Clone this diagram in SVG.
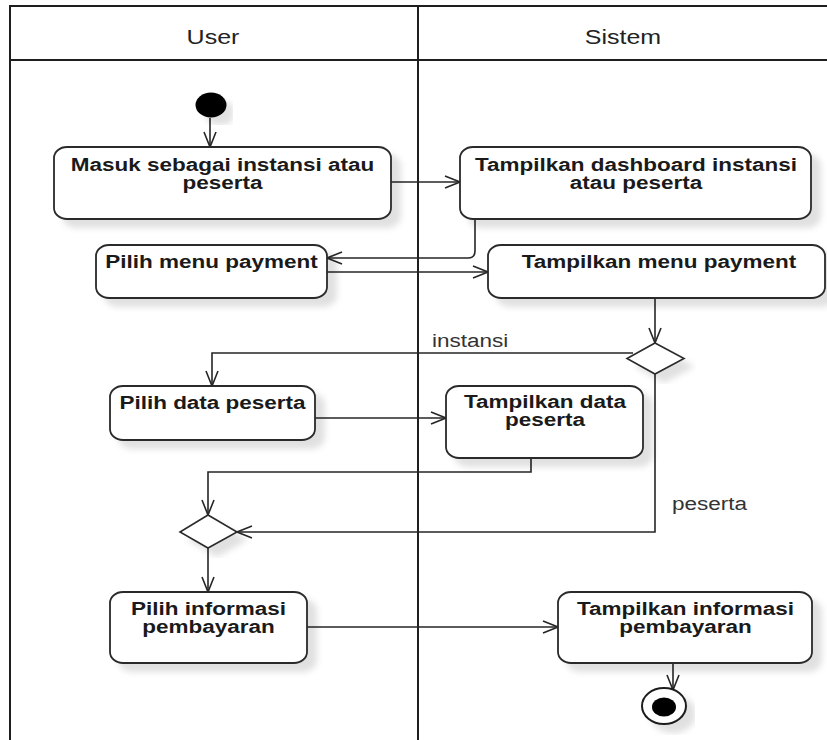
<svg xmlns="http://www.w3.org/2000/svg" width="827" height="740" viewBox="0 0 827 740">
  <defs>
    <style>
      .lane { fill: none; stroke: #1e1e1e; stroke-width: 2; }
      .act { fill: #ffffff; stroke: #2a2a2a; stroke-width: 1.8; filter: url(#shadow); }
      .dec { fill: #ffffff; stroke: #2a2a2a; stroke-width: 1.6; filter: url(#shadow); }
      .edge { fill: none; stroke: #262626; stroke-width: 1.6; marker-end: url(#open); }
      .t { font-family: "Liberation Sans", Arial, sans-serif; font-size: 18px; font-weight: bold; fill: #1a1a1a; text-anchor: middle; }
      .hd { font-family: "Liberation Sans", Arial, sans-serif; font-size: 20px; fill: #222222; text-anchor: middle; }
      .lbl { font-family: "Liberation Sans", Arial, sans-serif; font-size: 18px; fill: #333333; }
    </style>
    <filter id="shadow" x="-10%" y="-10%" width="130%" height="140%">
      <feOffset in="SourceAlpha" dx="9" dy="8" result="off"/>
      <feGaussianBlur in="off" stdDeviation="3" result="blur"/>
      <feColorMatrix in="blur" type="matrix" values="0 0 0 0 0  0 0 0 0 0  0 0 0 0 0  0 0 0 0.12 0" result="sh"/>
      <feMerge>
        <feMergeNode in="sh"/>
        <feMergeNode in="SourceGraphic"/>
      </feMerge>
    </filter>
    <marker id="open" viewBox="0 0 17 14" refX="16" refY="7" markerWidth="17" markerHeight="14" markerUnits="userSpaceOnUse" orient="auto">
      <path d="M1,1 L16,7 L1,13" fill="none" stroke="#262626" stroke-width="1.6"/>
    </marker>
  </defs>

  <rect width="827" height="740" fill="#ffffff"/>

  <!-- swimlanes -->
  <g id="lanes">
    <path class="lane" d="M10,740 V6 H827 M10,60 H827 M418,6 V740"/>
    <text class="hd" transform="matrix(1.25 0 0 1 213 44)">User</text>
    <text class="hd" transform="matrix(1.25 0 0 1 623 44)">Sistem</text>
  </g>

  <!-- connectors -->
  <g id="connectors">
    <path class="edge" d="M210,118 V147"/>
    <path class="edge" d="M391,182 H460"/>
    <path class="edge" d="M475,219 V251 Q475,258 468,258 H327"/>
    <path class="edge" d="M327,272 H488"/>
    <path class="edge" d="M655,298 V343"/>
    <path class="edge" d="M633,353 H212 V386"/>
    <path class="edge" d="M315,418 H446"/>
    <path class="edge" d="M531,458 V472 H208 V515"/>
    <path class="edge" d="M655,374 V532 H237"/>
    <path class="edge" d="M208,548 V592"/>
    <path class="edge" d="M307,627 H558"/>
    <path class="edge" d="M673,663 V690"/>
    <text class="lbl" transform="matrix(1.25 0 0 1 432 347)">instansi</text>
    <text class="lbl" transform="matrix(1.25 0 0 1 672 510)">peserta</text>
  </g>

  <!-- start -->
  <g id="start">
    <ellipse cx="211" cy="105" rx="15.5" ry="12.5" fill="#000000" filter="url(#shadow)"/>
  </g>

  <g id="masuk">
    <rect class="act" x="54" y="147" width="337" height="72" rx="13" ry="11"/>
    <text class="t" transform="matrix(1.25 0 0 1 222.5 171)"><tspan x="0">Masuk sebagai instansi atau</tspan><tspan x="0" dy="18">peserta</tspan></text>
  </g>

  <g id="dashboard">
    <rect class="act" x="460" y="147" width="351" height="72" rx="13" ry="11"/>
    <text class="t" transform="matrix(1.25 0 0 1 636 171)"><tspan x="0">Tampilkan dashboard instansi</tspan><tspan x="0" dy="18">atau peserta</tspan></text>
  </g>

  <g id="pilih-menu">
    <rect class="act" x="96" y="245" width="231" height="53" rx="13" ry="11"/>
    <text class="t" transform="matrix(1.25 0 0 1 211.5 268)">Pilih menu payment</text>
  </g>

  <g id="menu-payment">
    <rect class="act" x="488" y="245" width="337" height="53" rx="13" ry="11"/>
    <text class="t" transform="matrix(1.25 0 0 1 659 268)">Tampilkan menu payment</text>
  </g>

  <g id="decision-1">
    <path class="dec" d="M655,343 L684,358.5 L655,374 L627,358.5 Z"/>
  </g>

  <g id="pilih-data">
    <rect class="act" x="110" y="386" width="205" height="54" rx="13" ry="11"/>
    <text class="t" transform="matrix(1.25 0 0 1 212.5 409)">Pilih data peserta</text>
  </g>

  <g id="data-peserta">
    <rect class="act" x="446" y="386" width="197" height="72" rx="13" ry="11"/>
    <text class="t" transform="matrix(1.25 0 0 1 545 408)"><tspan x="0">Tampilkan data</tspan><tspan x="0" dy="18">peserta</tspan></text>
  </g>

  <g id="decision-2">
    <path class="dec" d="M208,515 L237,532 L208,548 L180,532 Z"/>
  </g>

  <g id="pilih-info">
    <rect class="act" x="110" y="592" width="197" height="71" rx="13" ry="11"/>
    <text class="t" transform="matrix(1.25 0 0 1 208.5 615)"><tspan x="0">Pilih informasi</tspan><tspan x="0" dy="18">pembayaran</tspan></text>
  </g>

  <g id="info-pembayaran">
    <rect class="act" x="558" y="592" width="254" height="71" rx="13" ry="11"/>
    <text class="t" transform="matrix(1.25 0 0 1 685.5 615)"><tspan x="0">Tampilkan informasi</tspan><tspan x="0" dy="18">pembayaran</tspan></text>
  </g>

  <!-- end -->
  <g id="end">
    <ellipse cx="664" cy="706" rx="22" ry="18" fill="#ffffff" stroke="#1e1e1e" stroke-width="2" filter="url(#shadow)"/>
    <ellipse cx="664" cy="707" rx="12" ry="9.5" fill="#000000"/>
  </g>
</svg>
